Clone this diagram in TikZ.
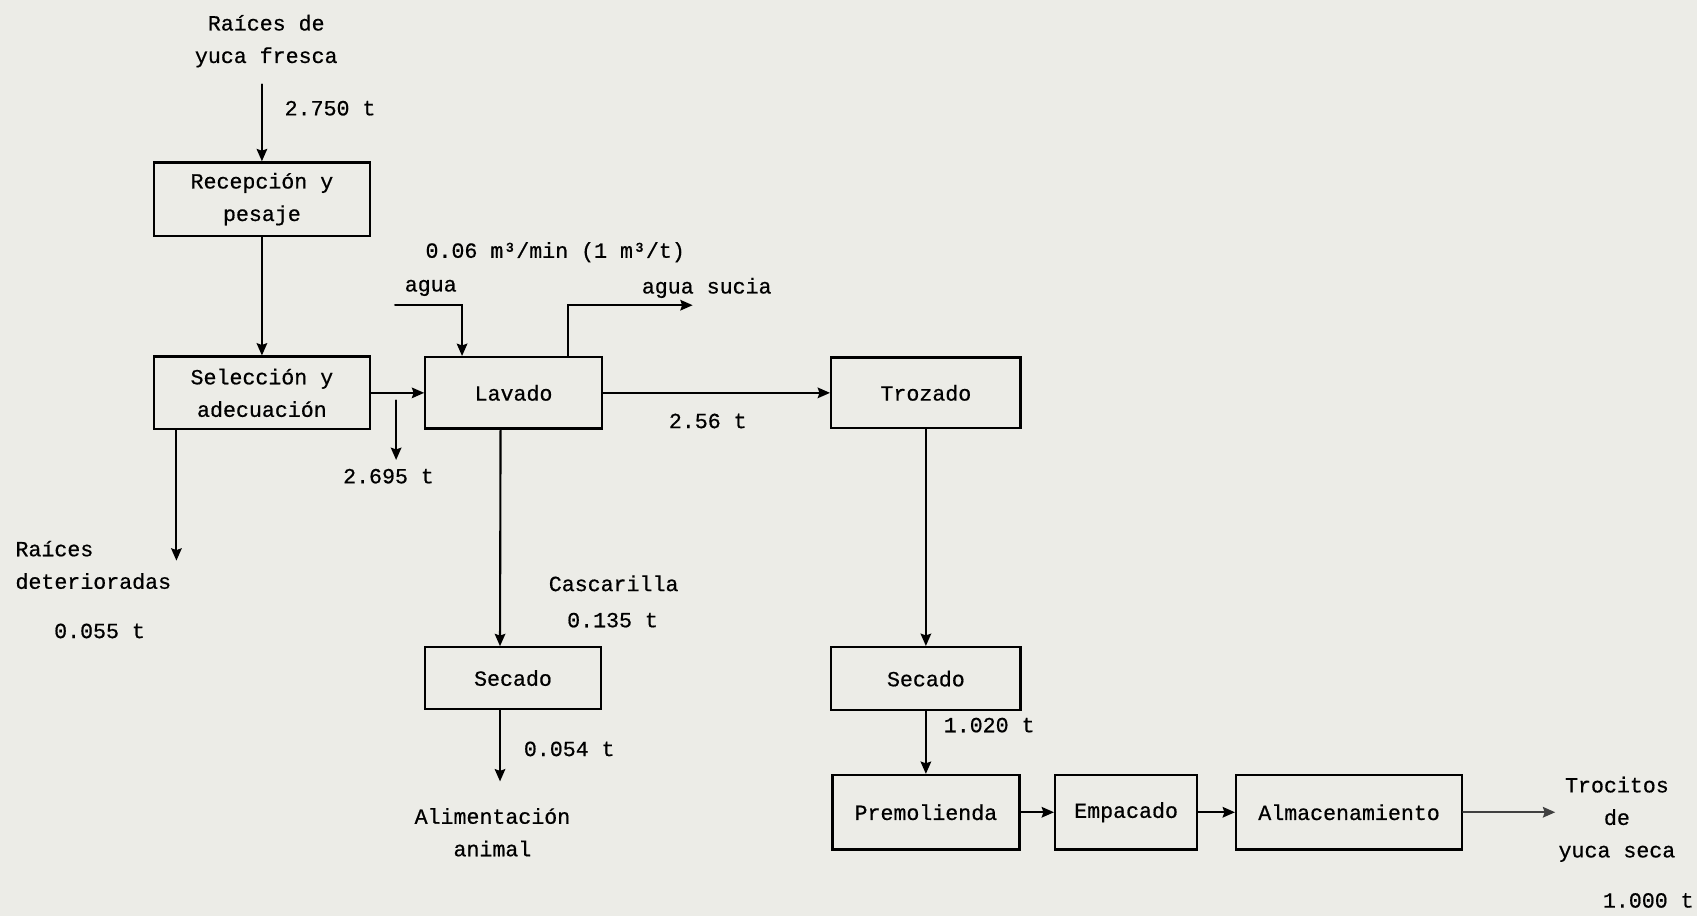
\documentclass[tikz,border=0pt]{standalone}
\usepackage{fontspec}
\setmainfont{Liberation Mono}[BoldFont=Liberation Mono, BoldFeatures={FakeBold=0.6}]
\usetikzlibrary{positioning, calc, arrows.meta}
\definecolor{papel}{RGB}{236,236,231}

\begin{document}
\begin{tikzpicture}[x=0.021646cm, y=-0.021646cm, line cap=round,
    font=\fontsize{12.3pt}{18.5pt}\selectfont\bfseries,
    caja/.style 2 args={draw, line width=1.3pt, minimum width=#1cm, minimum height=#2cm, align=center, inner sep=0pt},
    flecha/.style={line width=1.2pt, -{Stealth[length=7pt, width=6pt, inset=1pt]}},
    txt/.style={align=center, inner sep=0pt}]
    % fondo de papel
    \fill[papel] (0,0) rectangle (1568,846);
    \useasboundingbox (0,0) rectangle (1568,846);

    % cajas del proceso
    \node[caja={4.33}{1.47}] (recep) at (242,184) {Recepción y\\pesaje};
    \node[caja={4.33}{1.45}] (selec) at (242,363) {Selección y\\adecuación};
    \node[caja={3.53}{1.43}] (lavado) at (474.5,363) {Lavado};
    \node[caja={3.51}{1.23}] (secadoA) at (474,626.5) {Secado};
    \node[caja={3.79}{1.41}] (trozado) at (855.5,363) {Trozado};
    \node[caja={3.79}{1.26}] (secadoB) at (855.5,627) {Secado};
    \node[caja={3.74}{1.49}] (premol) at (855.5,750.5) {Premolienda};
    \node[caja={2.84}{1.49}] (empac) at (1040.5,750.5) {Empacado};
    \node[caja={4.52}{1.49}] (almac) at (1246.5,750.5) {Almacenamiento};

    % puntos libres
    \coordinate (entrada) at (242,78);
    \coordinate (merma) at (366,370);
    \coordinate (mermaFin) at (366,425);
    \coordinate (descarte) at (163,518);
    \coordinate (aguaIn) at (365,282);
    \coordinate (aguaOut) at (640,282);
    \coordinate (animal) at (462,722);
    \coordinate (salida) at (1437,750.5);

    % textos
    \node[txt] (materia) at (246,38) {Raíces de\\yuca fresca};
    \node[txt] (t2750) at (305,100) {2.750 t};
    \node[txt] (t2695) at (359,440) {2.695 t};
    \node[txt, align=left, anchor=west] (deter) at (14,522) {Raíces\\deterioradas};
    \node[txt] (t0055) at (92,583) {0.055 t};
    \node[txt] (caudal) at (513,233) {0.06 m³/min (1 m³/t)};
    \node[txt] (agua) at (398,266) {agua};
    \node[txt] (sucia) at (653,266) {agua sucia};
    \node[txt] (t256) at (654,389) {2.56 t};
    \node[txt] (casc) at (567,539) {Cascarilla};
    \node[txt] (t0135) at (566,573) {0.135 t};
    \node[txt] (t0054) at (526,692) {0.054 t};
    \node[txt] (alim) at (455,769) {Alimentación\\animal};
    \node[txt] (t1020) at (914,670) {1.020 t};
    \node[txt] (trocitos) at (1494,757) {Trocitos\\de\\yuca seca};
    \node[txt] (t1000) at (1523,832) {1.000 t};

    % flechas linea principal
    \draw[flecha] (entrada) -- (recep.north);
    \draw[flecha] (recep) -- (selec);
    \draw[flecha] (selec.east) -- (lavado.west);
    \draw[flecha] (merma) -- (mermaFin);
    \draw[flecha] (selec.south -| descarte) -- (descarte);
    \draw[flecha] (aguaIn) -| ($(lavado.north west)+(35,0)$);
    \draw[flecha] ($(lavado.north west)+(133,0)$) |- (aguaOut);
    \draw[flecha] (lavado.east) -- (trozado.west);
    \draw[flecha] ($(lavado.south)+(-12,0)$) -- ($(secadoA.north)+(-12,0)$);
    \draw[flecha] ($(secadoA.south)+(-12,0)$) -- (animal);
    \draw[flecha] (trozado) -- (secadoB);
    \draw[flecha] (secadoB) -- (premol);
    \draw[flecha] (premol) -- (empac);
    \draw[flecha] (empac) -- (almac);
    \draw[flecha, black!75] (almac.east) -- (salida);
\end{tikzpicture}
\end{document}
